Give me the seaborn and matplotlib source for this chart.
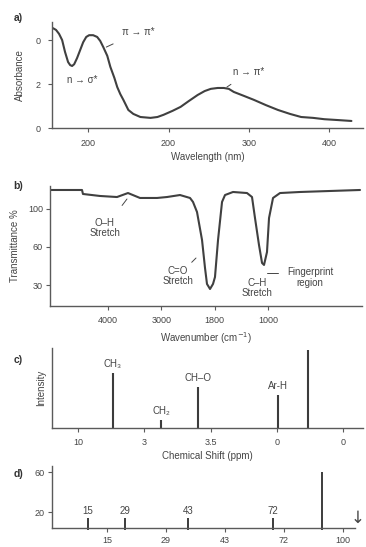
import numpy as np
import pandas as pd
import matplotlib
matplotlib.use("Agg")
import matplotlib.pyplot as plt
import seaborn as sns

# ---- (a) UV-Vis absorbance ----
uv_wavelength = [178.1, 180.0, 181.9, 183.8, 185.6, 187.5, 188.8, 190.0, 191.3, 193.1,
                 195.0, 196.9, 198.8, 200.6, 203.1, 205.6, 207.5, 209.4, 211.9, 213.8,
                 216.3, 218.1, 220.0, 221.9, 225.0, 228.1, 232.5, 238.8, 243.1, 246.9,
                 252.5, 257.5, 262.5, 268.1, 272.5, 276.3, 280.6, 284.4, 287.5, 290.6,
                 296.9, 303.1, 310.6, 318.1, 325.6, 332.5, 340.0, 346.9, 355.6, 363.8]
uv_absorbance = [2.27, 2.23, 2.14, 2.00, 1.73, 1.50, 1.43, 1.41, 1.45, 1.59,
                 1.77, 1.95, 2.07, 2.11, 2.11, 2.07, 1.98, 1.84, 1.64, 1.39,
                 1.14, 0.93, 0.77, 0.64, 0.41, 0.32, 0.25, 0.23, 0.25, 0.30,
                 0.39, 0.48, 0.61, 0.75, 0.84, 0.89, 0.91, 0.91, 0.89, 0.82,
                 0.73, 0.64, 0.52, 0.41, 0.32, 0.25, 0.23, 0.20, 0.18, 0.16]
uv_xticks = [200, 250, 300, 350]
uv_xticklabels = ["200", "200", "300", "400"]
uv_yticks = [0, 1, 2]
uv_yticklabels = ["0", "2", "0"]

# ---- (b) IR transmittance ----
ir_wavenumber = [5087, 4487, 4469, 4150, 3831, 3625, 3400, 3081, 2894, 2650, 2462,
                 2406, 2331, 2237, 2181, 2144, 2087, 2031, 1994, 1937, 1862, 1806, 1656,
                 1394, 1300, 1244, 1169, 1112, 1075, 1019, 981, 906, 775, 400, -725]
ir_transmittance = [120.0, 120.0, 115.8, 113.7, 112.6, 116.8, 111.6, 111.6, 112.6, 114.7,
                    111.6, 107.4, 96.8, 67.4, 37.9, 21.1, 15.8, 21.1, 28.4, 67.4, 107.4,
                    114.7, 117.9, 116.8, 112.6, 90.5, 62.1, 43.2, 41.1, 54.7, 90.5,
                    111.6, 116.8, 117.9, 120.0]
ir_xticks = [4000, 3000, 2000, 1000]
ir_xticklabels = ["4000", "3000", "1800", "1000"]
ir_yticks = [100, 60, 20]
ir_yticklabels = ["100", "60", "30"]

# ---- (c) 1H NMR ----
nmr_shift = [8.68, 6.87, 5.47, 2.45, 1.32]
nmr_intensity = [55, 8, 41, 33, 78]
nmr_labels = ["CH₃", "CH₂", "CH–O", "Ar-H", ""]
nmr_xticks = [10, 7.5, 5, 2.5, 0]
nmr_xticklabels = ["10", "3", "3.5", "0", "0"]

# ---- (d) mass spectrum ----
ms_position = [13.6, 26.1, 47.5, 76.3, 92.9]
ms_intensity = [14, 14, 14, 14, 60]
ms_labels = ["15", "29", "43", "72", ""]
ms_xticks = [20, 40, 60, 80, 100]
ms_xticklabels = ["15", "29", "43", "72", "100"]
ms_yticks = [60, 20]
ms_yticklabels = ["60", "20"]

sns.set_theme(style="ticks")
plt.rcParams["font.family"] = ["Liberation Sans", "DejaVu Sans"]
INK = "#454545"
AX = "#5a5a5a"
plt.rcParams.update({
    "axes.edgecolor": AX, "axes.linewidth": 1.0,
    "xtick.color": AX, "ytick.color": AX,
    "xtick.labelcolor": INK, "ytick.labelcolor": INK,
    "xtick.major.size": 3, "ytick.major.size": 3,
    "xtick.major.width": 0.8, "ytick.major.width": 0.8,
    "xtick.labelsize": 6.5, "ytick.labelsize": 6.5,
    "axes.labelcolor": INK, "axes.labelsize": 7,
    "text.color": INK,
})

W, H = 366, 547
fig = plt.figure(figsize=(W / 100, H / 100), dpi=100)
fig.patch.set_facecolor("white")


def px_axes(left, top, right, bottom):
    return fig.add_axes([left / W, 1 - bottom / H, (right - left) / W, (bottom - top) / H])


def style(ax):
    sns.despine(ax=ax)
    ax.set_facecolor("white")
    ax.grid(False)


FS = 7

# (a)
ax_a = px_axes(52, 22, 363, 128)
uv = pd.DataFrame({"wl": uv_wavelength, "A": uv_absorbance})
sns.lineplot(data=uv, x="wl", y="A", ax=ax_a, color="#404040", lw=1.5, sort=False)
ax_a.set_xlim(177.5, 371)
ax_a.set_ylim(0, 2.41)
ax_a.set_xticks(uv_xticks, uv_xticklabels)
ax_a.set_yticks(uv_yticks, uv_yticklabels)
ax_a.tick_params(axis="x", pad=5)
ax_a.tick_params(axis="y", pad=5)
ax_a.set_xlabel("Wavelength (nm)", labelpad=3)
ax_a.set_ylabel("Absorbance", labelpad=8)
style(ax_a)
ax_a.annotate("π → π*", xy=(211.3, 1.84), xytext=(231.3, 2.18), fontsize=FS,
              ha="center", va="center",
              arrowprops=dict(arrowstyle="-", color=INK, lw=0.7, shrinkA=6, shrinkB=0))
ax_a.text(196.3, 1.09, "n → σ*", fontsize=FS, ha="center", va="center")
ax_a.annotate("n → π*", xy=(286.3, 0.93), xytext=(300, 1.27), fontsize=FS,
              ha="center", va="center",
              arrowprops=dict(arrowstyle="-", color=INK, lw=0.7, shrinkA=5, shrinkB=0))

# (b)
ax_b = px_axes(50, 186, 362, 306)
ir = pd.DataFrame({"wn": ir_wavenumber, "T": ir_transmittance})
sns.lineplot(data=ir, x="wn", y="T", ax=ax_b, color="#404040", lw=1.5, sort=False)
ax_b.set_xlim(5087, -762)
ax_b.set_ylim(-2.1, 124.2)
ax_b.set_xticks(ir_xticks, ir_xticklabels)
ax_b.set_yticks(ir_yticks, ir_yticklabels)
ax_b.tick_params(axis="x", pad=4)
ax_b.tick_params(axis="y", pad=2)
ax_b.set_xlabel("Wavenumber (cm$^{-1}$)", labelpad=4)
ax_b.set_ylabel("Transmittance %", labelpad=6)
style(ax_b)
ax_b.annotate("O–H\nStretch", xy=(3644, 110.5), xytext=(4056, 80), fontsize=FS,
              ha="center", va="center", linespacing=1.1,
              arrowprops=dict(arrowstyle="-", color=INK, lw=0.7, shrinkA=8, shrinkB=0))
ax_b.annotate("C=O\nStretch", xy=(2350, 48.4), xytext=(2687, 29.5), fontsize=FS,
              ha="center", va="center", linespacing=1.1,
              arrowprops=dict(arrowstyle="-", color=INK, lw=0.7, shrinkA=9, shrinkB=0))
ax_b.text(1206, 16.8, "C–H\nStretch", fontsize=FS, ha="center", va="center", linespacing=1.1)
ax_b.plot([1019, 812], [32.6, 32.6], color=INK, lw=0.7)
ax_b.text(212, 27.9, "Fingerprint\nregion", fontsize=FS, ha="center", va="center",
          linespacing=1.1)

# (c)
ax_c = px_axes(52, 348, 363, 428)
nmr = pd.DataFrame({"ppm": nmr_shift, "I": nmr_intensity, "lab": nmr_labels})
ax_c.vlines(nmr["ppm"], 0, nmr["I"], color="#3c3c3c", lw=1.5)
for _, r in nmr.iterrows():
    if r["lab"]:
        ax_c.text(r["ppm"], r["I"] + 4, r["lab"], fontsize=FS, ha="center", va="bottom")
ax_c.set_xlim(10.98, -0.75)
ax_c.set_ylim(0, 80)
ax_c.set_xticks(nmr_xticks, nmr_xticklabels)
ax_c.set_yticks([])
ax_c.tick_params(axis="x", pad=4)
ax_c.set_xlabel("Chemical Shift (ppm)", labelpad=3)
ax_c.set_ylabel("Intensity", labelpad=4)
style(ax_c)

# (d)
ax_d = px_axes(52, 466, 355, 528)
ms = pd.DataFrame({"mz": ms_position, "I": ms_intensity, "lab": ms_labels})
ax_d.vlines(ms["mz"], 2.5, ms["I"], color="#3c3c3c", lw=1.4, clip_on=False)
for _, r in ms.iterrows():
    if r["lab"]:
        ax_d.text(r["mz"], r["I"] + 2, r["lab"], fontsize=FS, ha="center", va="bottom")
ax_d.set_xlim(1.4, 104.1)
ax_d.set_ylim(4, 66)
ax_d.set_xticks(ms_xticks, ms_xticklabels)
ax_d.set_yticks(ms_yticks, ms_yticklabels)
ax_d.tick_params(axis="x", pad=3)
ax_d.tick_params(axis="y", pad=2)
ax_d.set_xlabel("")
ax_d.set_ylabel("")
style(ax_d)
fig.text(358 / W, 1 - 518 / H, "↓", fontsize=12, ha="center", va="center", color=INK,
         family=["DejaVu Sans"])

# panel letters
for lab, y in [("a)", 18), ("b)", 186), ("c)", 360), ("d)", 474)]:
    fig.text(18 / W, 1 - y / H, lab, fontsize=7.5, fontweight="bold", ha="center",
             va="center", color="#333333")

fig.savefig("out.png", dpi=100, facecolor="white")
